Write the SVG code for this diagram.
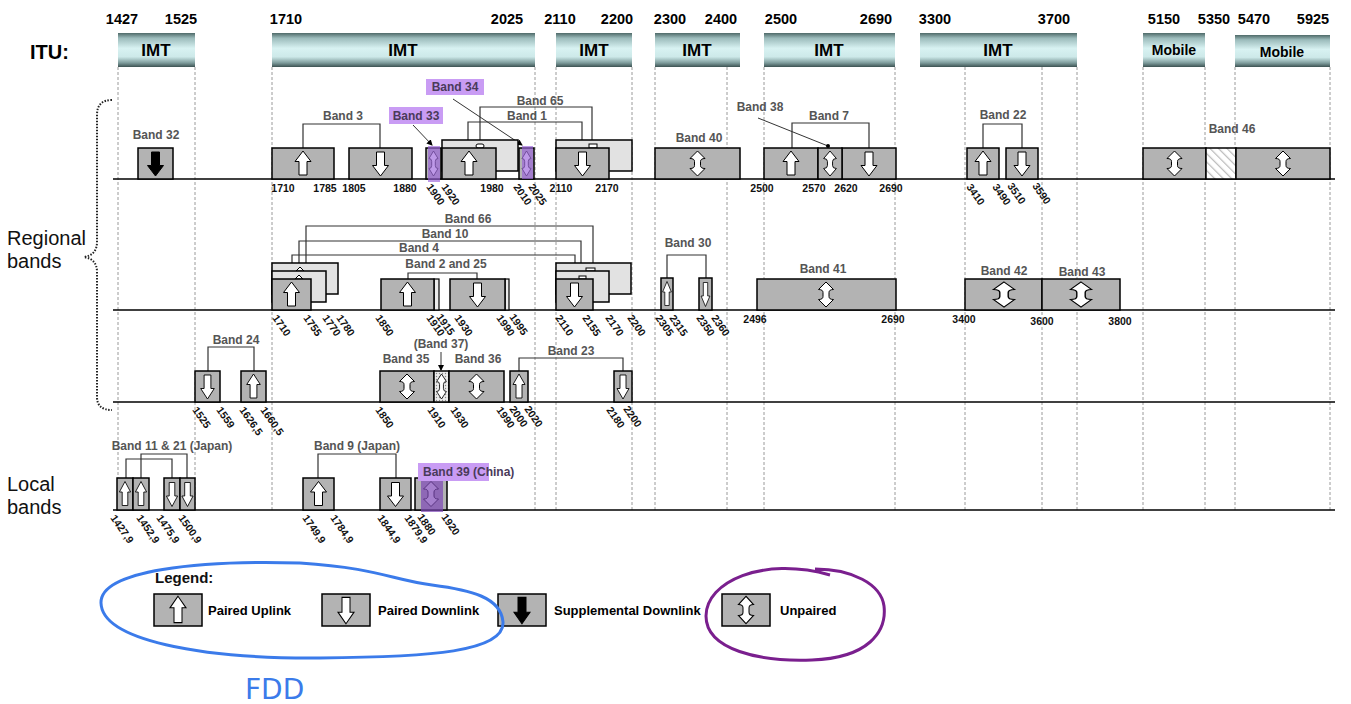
<svg xmlns="http://www.w3.org/2000/svg" width="1351" height="704" viewBox="0 0 1351 704">
<defs>
<style>
text{font-family:"Liberation Sans",Arial,sans-serif}
.hdr{font-size:14.5px;font-weight:bold;fill:#000;text-anchor:middle}
.imt{font-size:17px;font-weight:bold;fill:#000;text-anchor:middle}
.mob{font-size:14px;font-weight:bold;fill:#000;text-anchor:middle}
.grid{stroke:#9a9a9a;stroke-width:1;stroke-dasharray:3 2;fill:none}
.base{stroke:#000;stroke-width:1.6}
.box{fill:#b3b3b3;stroke:#000;stroke-width:1.5}
.back{fill:#e2e2e2;stroke:#000;stroke-width:1.5}
.sl{fill:#ececec;stroke:#000;stroke-width:1.2}
.arr{fill:#fff;stroke:#000;stroke-width:1}
.sdl{fill:#000;stroke:#000;stroke-width:1}
.lbl{font-size:12px;font-weight:bold;fill:#555;text-anchor:middle}
.num{font-size:10.5px;font-weight:bold;fill:#111;text-anchor:middle}
.rn{font-size:10.5px;font-weight:bold;fill:#111}
.br{fill:none;stroke:#333;stroke-width:1.2}
.ld{fill:none;stroke:#333;stroke-width:1}
.side{font-size:20px;fill:#111}
.leg{font-size:13px;font-weight:bold;fill:#000}
.pbg{fill:#c99cf4}
.pov{fill:#9b62dc;opacity:0.65}
</style>
<linearGradient id="imtg" x1="0" y1="0" x2="0" y2="1">
<stop offset="0" stop-color="#4f6a69"/>
<stop offset="0.15" stop-color="#9bbbbb"/>
<stop offset="0.45" stop-color="#d8f2f2"/>
<stop offset="0.7" stop-color="#cde9e9"/>
<stop offset="0.88" stop-color="#7d9b9b"/>
<stop offset="1" stop-color="#3c5252"/>
</linearGradient>
<pattern id="hatch" width="6" height="6" patternUnits="userSpaceOnUse" patternTransform="rotate(-45)">
<rect width="6" height="6" fill="#fff"/><line x1="0" y1="0" x2="0" y2="6" stroke="#bcbcbc" stroke-width="2.5"/>
</pattern>
<pattern id="dots" width="3" height="3" patternUnits="userSpaceOnUse">
<rect width="3" height="3" fill="#ececec"/><circle cx="1.5" cy="1.5" r="0.7" fill="#888"/>
</pattern>
<path id="au" d="M0,-12.5 L8,-2 L4,-2 L4,11.5 L-4,11.5 L-4,-2 L-8,-2 Z"/>
<path id="ad" d="M0,12.5 L8,2 L4,2 L4,-11.5 L-4,-11.5 L-4,2 L-8,2 Z"/>
<path id="ab" d="M0,-12.5 L7.5,-5 Q3,-5 3,-2 L3,2 Q3,5 7.5,5 L0,12.5 L-7.5,5 Q-3,5 -3,2 L-3,-2 Q-3,-5 -7.5,-5 Z"/>
<marker id="ah" viewBox="0 0 6 6" refX="5" refY="3" markerWidth="6" markerHeight="6" orient="auto" markerUnits="userSpaceOnUse">
<path d="M0,0 L6,3 L0,6 Z" fill="#000"/>
</marker>
<marker id="dot" viewBox="0 0 4 4" refX="2" refY="2" markerWidth="4" markerHeight="4" markerUnits="userSpaceOnUse">
<circle cx="2" cy="2" r="2" fill="#000"/>
</marker>
</defs>
<rect width="1351" height="704" fill="#fff"/>

<g id="header">
<text class="hdr" x="122" y="24">1427</text>
<text class="hdr" x="181" y="24">1525</text>
<text class="hdr" x="286" y="24">1710</text>
<text class="hdr" x="507" y="24">2025</text>
<text class="hdr" x="560" y="24">2110</text>
<text class="hdr" x="617" y="24">2200</text>
<text class="hdr" x="670" y="24">2300</text>
<text class="hdr" x="721" y="24">2400</text>
<text class="hdr" x="781" y="24">2500</text>
<text class="hdr" x="876" y="24">2690</text>
<text class="hdr" x="935" y="24">3300</text>
<text class="hdr" x="1054" y="24">3700</text>
<text class="hdr" x="1164" y="24">5150</text>
<text class="hdr" x="1214" y="24">5350</text>
<text class="hdr" x="1254" y="24">5470</text>
<text class="hdr" x="1313" y="24">5925</text>
<text x="30" y="59" style="font-size:20px;font-weight:bold;fill:#000">ITU:</text>
<g fill="url(#imtg)">
<rect x="118" y="33" width="77" height="34"/>
<rect x="272" y="33" width="263" height="34"/>
<rect x="556" y="33" width="76" height="34"/>
<rect x="655" y="33" width="85" height="34"/>
<rect x="764" y="33" width="131" height="34"/>
<rect x="920" y="33" width="157" height="34"/>
<rect x="1143" y="33" width="62" height="34"/>
<rect x="1235" y="35" width="95" height="32"/>
</g>
<text class="imt" x="156" y="56">IMT</text>
<text class="imt" x="403" y="56">IMT</text>
<text class="imt" x="594" y="56">IMT</text>
<text class="imt" x="697" y="56">IMT</text>
<text class="imt" x="829" y="56">IMT</text>
<text class="imt" x="998" y="56">IMT</text>
<text class="mob" x="1174" y="55">Mobile</text>
<text class="mob" x="1282" y="57">Mobile</text>
</g>

<g id="grid">
<path class="grid" d="M118,67V512 M195,67V512 M272,67V512 M535,67V512 M556,67V512 M632,67V512 M655,67V512 M727,67V512 M764,67V512 M895,67V512 M965,67V512 M1042,67V512 M1077,67V512 M1143,67V512 M1205,67V512 M1235,67V512 M1330,67V512"/>
</g>

<g id="side-labels">
<text class="side" x="7" y="245">Regional</text>
<text class="side" x="7" y="268">bands</text>
<text class="side" x="7" y="491">Local</text>
<text class="side" x="7" y="514">bands</text>
<path d="M112,100 Q97,100 97,115 L97,242 Q97,255 84,257 Q97,259 97,272 L97,397 Q97,410 112,410" fill="none" stroke="#222" stroke-width="2" stroke-dasharray="1.5 1.5"/>
</g>

<g id="baselines">
<line class="base" x1="113" y1="179" x2="1335" y2="179"/>
<line class="base" x1="113" y1="310" x2="1335" y2="310"/>
<line class="base" x1="113" y1="402" x2="1335" y2="402"/>
<line class="base" x1="113" y1="510" x2="1335" y2="510"/>
</g>

<g id="connectors">
<path class="br" d="M303,148V124H380V148"/>
<path class="br" d="M480,140V107H592V140"/>
<path class="br" d="M468,148V122H582V148"/>
<path class="br" d="M792,148V123H869V148"/>
<path class="br" d="M983,148V124H1022V148"/>
<path class="ld" d="M413,125L432,145" marker-end="url(#ah)"/>
<path class="ld" d="M453,99L522,145" marker-end="url(#ah)"/>
<path class="ld" d="M758,118L828,146" marker-end="url(#dot)"/>
<path class="br" d="M306,263V226H593V263"/>
<path class="br" d="M299,271V241H581V271"/>
<path class="br" d="M292,279V255H575V279"/>
<path class="br" d="M408,279V273H477V279"/>
<path class="br" d="M667,278V255H706V278"/>
<path class="br" d="M208,371V347H254V371"/>
<path class="br" d="M519,371V358H623V371"/>
<path class="ld" d="M441,352V370" marker-end="url(#ah)"/>
<path class="br" d="M126,478V459H172V478"/>
<path class="br" d="M141,478V454H187V478"/>
<path class="br" d="M318,478V454H396V478"/>
</g>

<g id="band32"><rect class="box" x="138" y="148" width="35" height="31"/><use href="#ad" class="sdl" x="155.5" y="163.5"/><text class="lbl" x="156" y="139">Band 32</text></g>
<g id="band3"><rect class="box" x="272" y="148" width="62" height="31"/><use href="#au" class="arr" x="303" y="163.5"/><rect class="box" x="349" y="148" width="63" height="31"/><use href="#ad" class="arr" x="380.5" y="163.5"/><text class="lbl" x="343" y="120">Band 3</text></g>
<g id="band65"><rect class="back" x="442" y="140" width="76" height="31"/><rect class="back" x="556" y="140" width="76" height="31"/><rect class="arr" x="476" y="144" width="8" height="4" rx="2"/><rect class="arr" x="589" y="144" width="8" height="4"/><text class="lbl" x="540" y="105">Band 65</text></g>
<g id="band1"><rect class="box" x="442" y="148" width="54" height="31"/><use href="#au" class="arr" x="469" y="163.5"/><rect class="box" x="556" y="148" width="53" height="31"/><use href="#ad" class="arr" x="582.5" y="163.5"/><text class="lbl" x="527" y="120">Band 1</text></g>
<g id="band33"><rect class="box" x="426" y="148" width="15" height="31"/><use href="#ab" class="arr" transform="translate(433.5,163.5) scale(0.6,1)"/><rect class="pov" x="428" y="146" width="12" height="36"/><rect class="pbg" x="389" y="107" width="54" height="17"/><text class="lbl" x="416" y="120" style="fill:#4a3a5a">Band 33</text></g>
<g id="band34"><rect class="box" x="519" y="148" width="15" height="31"/><use href="#ab" class="arr" transform="translate(526.5,163.5) scale(0.6,1)"/><rect class="pov" x="522" y="146" width="11" height="33"/><rect class="pbg" x="426" y="79" width="58" height="16"/><text class="lbl" x="455" y="91" style="fill:#4a3a5a">Band 34</text></g>
<g id="band40"><rect class="box" x="655" y="148" width="85" height="31"/><use href="#ab" class="arr" x="697.5" y="163.5"/><text class="lbl" x="699" y="142">Band 40</text></g>
<g id="band7"><rect class="box" x="764" y="148" width="54" height="31"/><use href="#au" class="arr" x="791" y="163.5"/><rect class="box" x="842" y="148" width="54" height="31"/><use href="#ad" class="arr" x="869" y="163.5"/><text class="lbl" x="829" y="120">Band 7</text></g>
<g id="band38"><rect class="box" x="818" y="148" width="24" height="31"/><use href="#ab" class="arr" transform="translate(830,163.5) scale(0.85,1)"/><text class="lbl" x="760" y="111">Band 38</text></g>
<g id="band22"><rect class="box" x="967" y="148" width="32" height="31"/><use href="#au" class="arr" x="983" y="163.5"/><rect class="box" x="1006" y="148" width="32" height="31"/><use href="#ad" class="arr" x="1022" y="163.5"/><text class="lbl" x="1003" y="119">Band 22</text></g>
<g id="band46"><rect class="box" x="1143" y="148" width="63" height="31"/><rect x="1206" y="148" width="30" height="31" fill="url(#hatch)" stroke="#000" stroke-width="1.5"/><rect class="box" x="1236" y="148" width="94" height="31"/><use href="#ab" class="arr" x="1174.5" y="163.5"/><use href="#ab" class="arr" x="1283" y="163.5"/><text class="lbl" x="1232" y="133">Band 46</text></g>

<g id="row1-numbers">
<text class="num" x="283" y="192">1710</text>
<text class="num" x="325" y="192">1785</text>
<text class="num" x="354" y="192">1805</text>
<text class="num" x="405" y="192">1880</text>
<text class="num" x="492" y="192">1980</text>
<text class="num" x="561" y="192">2110</text>
<text class="num" x="607" y="192">2170</text>
<text class="num" x="762" y="192">2500</text>
<text class="num" x="814" y="192">2570</text>
<text class="num" x="846" y="192">2620</text>
<text class="num" x="891" y="192">2690</text>
<text class="rn" transform="translate(426,187) rotate(55)">1900</text>
<text class="rn" transform="translate(441,187) rotate(55)">1920</text>
<text class="rn" transform="translate(513,187) rotate(55)">2010</text>
<text class="rn" transform="translate(528,187) rotate(55)">2025</text>
<text class="rn" transform="translate(966,187) rotate(55)">3410</text>
<text class="rn" transform="translate(992,187) rotate(55)">3490</text>
<text class="rn" transform="translate(1007,186) rotate(55)">3510</text>
<text class="rn" transform="translate(1032,186) rotate(55)">3590</text>
</g>

<g id="band66-10-4">
<rect class="back" x="272" y="263" width="66" height="31"/>
<path class="arr" d="M300,267 L304,271 L296,271 Z"/>
<rect class="back" x="272" y="271" width="54" height="31"/>
<path class="arr" d="M299,275 L303,279 L295,279 Z"/>
<rect class="box" x="272" y="279" width="39" height="31"/><use href="#au" class="arr" x="291.5" y="294.5"/>
<rect class="back" x="556" y="263" width="75" height="31"/>
<rect class="arr" x="586" y="268" width="9" height="3"/>
<rect class="back" x="556" y="271" width="53" height="31"/>
<rect class="arr" x="579" y="276" width="7" height="3"/>
<rect class="box" x="556" y="279" width="37" height="31"/><use href="#ad" class="arr" x="574.5" y="294.5"/>
<text class="lbl" x="468" y="223">Band 66</text>
<text class="lbl" x="445" y="238">Band 10</text>
<text class="lbl" x="419" y="252">Band 4</text>
</g>
<g id="band2-25">
<rect class="sl" x="434" y="279" width="5" height="31"/>
<rect class="box" x="381" y="279" width="53" height="31"/><use href="#au" class="arr" x="407.5" y="294.5"/>
<rect class="sl" x="505" y="279" width="4" height="31"/>
<rect class="box" x="450" y="279" width="55" height="31"/><use href="#ad" class="arr" x="477.5" y="294.5"/>
<text class="lbl" x="446" y="268">Band 2 and 25</text>
</g>
<g id="band30"><rect class="box" x="661" y="278" width="12" height="32"/><use href="#au" class="arr" transform="translate(667,294) scale(0.55,1)"/><rect class="box" x="699" y="278" width="13" height="32"/><use href="#ad" class="arr" transform="translate(705.5,294) scale(0.55,1)"/><text class="lbl" x="688" y="247">Band 30</text></g>
<g id="band41"><rect class="box" x="757" y="279" width="139" height="31"/><use href="#ab" class="arr" x="826" y="294.5"/><text class="lbl" x="823" y="273">Band 41</text></g>
<g id="band42"><rect class="box" x="965" y="279" width="77" height="31"/><use href="#ab" class="arr" transform="translate(1004,294.5) scale(1.4,1)"/><text class="lbl" x="1004" y="275">Band 42</text></g>
<g id="band43"><rect class="box" x="1042" y="279" width="78" height="31"/><use href="#ab" class="arr" transform="translate(1081,294.5) scale(1.4,1)"/><text class="lbl" x="1082" y="276">Band 43</text></g>

<g id="row2-numbers">
<text class="rn" transform="translate(272,318) rotate(55)">1710</text>
<text class="rn" transform="translate(303,318) rotate(55)">1755</text>
<text class="rn" transform="translate(322,318) rotate(55)">1770</text>
<text class="rn" transform="translate(336,318) rotate(55)">1780</text>
<text class="rn" transform="translate(375,318) rotate(55)">1850</text>
<text class="rn" transform="translate(426,318) rotate(55)">1910</text>
<text class="rn" transform="translate(436,317) rotate(55)">1915</text>
<text class="rn" transform="translate(454,318) rotate(55)">1930</text>
<text class="rn" transform="translate(496,318) rotate(55)">1990</text>
<text class="rn" transform="translate(509,317) rotate(55)">1995</text>
<text class="rn" transform="translate(555,318) rotate(55)">2110</text>
<text class="rn" transform="translate(582,318) rotate(55)">2155</text>
<text class="rn" transform="translate(605,318) rotate(55)">2170</text>
<text class="rn" transform="translate(627,318) rotate(55)">2200</text>
<text class="rn" transform="translate(655,318) rotate(55)">2305</text>
<text class="rn" transform="translate(669,318) rotate(55)">2315</text>
<text class="rn" transform="translate(696,318) rotate(55)">2350</text>
<text class="rn" transform="translate(711,318) rotate(55)">2360</text>
<text class="num" x="755" y="323">2496</text>
<text class="num" x="893" y="323">2690</text>
<text class="num" x="964" y="323">3400</text>
<text class="num" x="1042" y="325">3600</text>
<text class="num" x="1120" y="325">3800</text>
</g>

<g id="band24"><rect class="box" x="195" y="371" width="25" height="31"/><use href="#ad" class="arr" transform="translate(207.5,386.5) scale(0.85,1)"/><rect class="box" x="241" y="371" width="25" height="31"/><use href="#au" class="arr" transform="translate(253.5,386.5) scale(0.85,1)"/><text class="lbl" x="236" y="344">Band 24</text></g>
<g id="band35"><rect class="box" x="380" y="371" width="54" height="31"/><use href="#ab" class="arr" x="407" y="386.5"/><text class="lbl" x="406" y="363">Band 35</text></g>
<g id="band37"><rect x="434" y="371" width="15" height="31" fill="url(#dots)" stroke="#000" stroke-width="1.5"/><use href="#ab" class="arr" transform="translate(441.5,386.5) scale(0.65,1)"/><text class="lbl" x="441" y="348">(Band 37)</text></g>
<g id="band36"><rect class="box" x="449" y="371" width="55" height="31"/><use href="#ab" class="arr" x="476.5" y="386.5"/><text class="lbl" x="478" y="363">Band 36</text></g>
<g id="band23"><rect class="box" x="510" y="371" width="18" height="31"/><use href="#au" class="arr" transform="translate(519,386.5) scale(0.75,1)"/><rect class="box" x="614" y="371" width="18" height="31"/><use href="#ad" class="arr" transform="translate(623,386.5) scale(0.75,1)"/><text class="lbl" x="571" y="355">Band 23</text></g>

<g id="row3-numbers">
<text class="rn" transform="translate(192,410) rotate(55)">1525</text>
<text class="rn" transform="translate(216,410) rotate(55)">1559</text>
<text class="rn" transform="translate(239,410) rotate(55)">1626,5</text>
<text class="rn" transform="translate(260,410) rotate(55)">1660,5</text>
<text class="rn" transform="translate(375,410) rotate(55)">1850</text>
<text class="rn" transform="translate(427,410) rotate(55)">1910</text>
<text class="rn" transform="translate(450,410) rotate(55)">1930</text>
<text class="rn" transform="translate(496,410) rotate(55)">1990</text>
<text class="rn" transform="translate(509,409) rotate(55)">2000</text>
<text class="rn" transform="translate(524,409) rotate(55)">2020</text>
<text class="rn" transform="translate(606,410) rotate(55)">2180</text>
<text class="rn" transform="translate(623,409) rotate(55)">2200</text>
</g>

<g id="band11-21"><rect class="box" x="117" y="478" width="16" height="32"/><use href="#au" class="arr" transform="translate(125,494) scale(0.7,1)"/><rect class="box" x="133" y="478" width="16" height="32"/><use href="#au" class="arr" transform="translate(141,494) scale(0.7,1)"/><rect class="box" x="164" y="478" width="16" height="32"/><use href="#ad" class="arr" transform="translate(172,494) scale(0.7,1)"/><rect class="box" x="180" y="478" width="15" height="32"/><use href="#ad" class="arr" transform="translate(187.5,494) scale(0.7,1)"/><text class="lbl" x="172" y="450">Band 11 &amp; 21 (Japan)</text></g>
<g id="band9"><rect class="box" x="303" y="478" width="31" height="32"/><use href="#au" class="arr" x="318.5" y="494"/><rect class="box" x="380" y="478" width="31" height="32"/><use href="#ad" class="arr" x="395.5" y="494"/><text class="lbl" x="357" y="450">Band 9 (Japan)</text></g>
<g id="band39"><rect class="box" x="415" y="478" width="32" height="32"/><use href="#ab" class="arr" x="431" y="494"/><rect x="421" y="479" width="22" height="33" fill="#7f48b8" opacity="0.7"/><rect class="pbg" x="418" y="463" width="71" height="18"/><text class="lbl" x="423" y="476" style="text-anchor:start;fill:#4a3a5a">Band 39 (China)</text></g>

<g id="row4-numbers">
<text class="rn" transform="translate(110,518) rotate(55)">1427,9</text>
<text class="rn" transform="translate(136,518) rotate(55)">1452,9</text>
<text class="rn" transform="translate(156,518) rotate(55)">1475,9</text>
<text class="rn" transform="translate(178,518) rotate(55)">1500,9</text>
<text class="rn" transform="translate(302,518) rotate(55)">1749,9</text>
<text class="rn" transform="translate(330,518) rotate(55)">1784,9</text>
<text class="rn" transform="translate(377,518) rotate(55)">1844,9</text>
<text class="rn" transform="translate(404,518) rotate(55)">1879,9</text>
<text class="rn" transform="translate(417,517) rotate(55)">1880</text>
<text class="rn" transform="translate(441,517) rotate(55)">1920</text>
</g>

<g id="legend">
<text x="155" y="583" style="font-size:15px;font-weight:bold;fill:#111">Legend:</text>
<rect class="box" x="154" y="594" width="48" height="32"/><use href="#au" class="arr" transform="translate(178,610) scale(1,1.1)"/>
<text class="leg" x="208" y="615">Paired Uplink</text>
<rect class="box" x="322" y="594" width="48" height="32"/><use href="#ad" class="arr" transform="translate(346,610) scale(1,1.1)"/>
<text class="leg" x="378" y="615">Paired Downlink</text>
<rect class="box" x="498" y="594" width="48" height="32"/><use href="#ad" class="sdl" transform="translate(522,610) scale(1,1.1)"/>
<text class="leg" x="554" y="615">Supplemental Downlink</text>
<rect class="box" x="722" y="594" width="48" height="32"/><use href="#ab" class="arr" transform="translate(746,610) scale(1,1.1)"/>
<text class="leg" x="780" y="615">Unpaired</text>
</g>

<g id="annotations">
<path d="M300,563 C200,560 100,570 101,603 C102,640 200,659 320,658 C430,657 505,652 503,622 C501,597 470,590 432,585 C392,580 378,568 300,563" fill="none" stroke="#3b7bea" stroke-width="3"/>
<path d="M830,575 C762,556 706,582 706,616 C706,650 760,662 812,660 C868,658 887,632 884,606 C881,584 852,569 815,569" fill="none" stroke="#7a1f8e" stroke-width="3"/>
<text x="245" y="699" style="font-family:'DejaVu Sans',sans-serif;font-size:28px;fill:#3b7bea">FDD</text>
</g>
</svg>
